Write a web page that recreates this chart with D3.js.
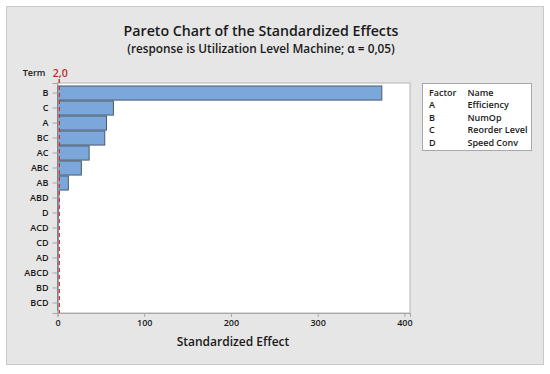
<!DOCTYPE html>
<html>
<head>
<meta charset="utf-8">
<script src="https://cdn.jsdelivr.net/npm/d3@7"></script>
<style>
  body { margin: 0; background: #fff; }
  svg text { font-family: "Open Sans", "Noto Sans", sans-serif; fill: #1a1a1a; }
</style>
</head>
<body>
<div id="chart"></div>
<script>
// Terms in Pareto order (largest effect first)
const terms = ['B', 'C', 'A', 'BC', 'AC', 'ABC', 'AB', 'ABD', 'D', 'ACD', 'CD', 'AD', 'ABCD', 'BD', 'BCD'];
const effects = [374, 64.5, 56.5, 54.5, 36.5, 27.5, 12.5, 1.6, 1.2, 1.0, 0.9, 0.8, 0.8, 0.6, 0.5];
const xTicks = [0, 100, 200, 300, 400];
const critical = 2.0;
const factorCodes = ['A', 'B', 'C', 'D'];
const factorNames = ['Efficiency', 'NumOp', 'Reorder Level', 'Speed Conv'];

const W = 550, H = 374;
const plot = { left: 57.5, right: 410, top: 83, bottom: 313 };

const svg = d3.select('#chart').append('svg')
    .attr('width', W)
    .attr('height', H);

// outer gray panel
svg.append('rect')
    .attr('x', 6.5).attr('y', 6.5)
    .attr('width', 537).attr('height', 358)
    .attr('fill', '#e6e6e6')
    .attr('stroke', '#c9c9c9');

// Titles
svg.append('text')
    .attr('x', 261).attr('y', 35.5)
    .attr('text-anchor', 'middle')
    .attr('font-size', 14.2)
    .attr('font-weight', 600)
    .text('Pareto Chart of the Standardized Effects');

svg.append('text')
    .attr('x', 261).attr('y', 53)
    .attr('text-anchor', 'middle')
    .attr('font-size', 11.8)
    .attr('font-weight', 600)
    .text('(response is Utilization Level Machine; α = 0,05)');

// Scales
const x = d3.scaleLinear()
    .domain([0, 406.5])
    .range([plot.left, plot.right]);

const y = d3.scaleBand()
    .domain(terms)
    .range([plot.top, plot.bottom])
    .paddingInner(0.06)
    .paddingOuter(0.2);

// plot background
svg.append('rect')
    .attr('x', plot.left).attr('y', plot.top)
    .attr('width', plot.right - plot.left)
    .attr('height', plot.bottom - plot.top)
    .attr('fill', '#fff')
    .attr('stroke', '#b4b4b4')
    .attr('stroke-width', 1);

// Bars
svg.selectAll('.bar')
    .data(terms)
    .enter()
    .append('rect')
    .attr('class', 'bar')
    .attr('x', x(0))
    .attr('y', d => y(d))
    .attr('width', (d, i) => x(effects[i]) - x(0))
    .attr('height', y.bandwidth())
    .attr('fill', '#7ba7da')
    .attr('stroke', '#4a5a6c')
    .attr('stroke-width', 1);

// Critical value reference line
svg.append('line')
    .attr('x1', x(critical)).attr('x2', x(critical))
    .attr('y1', plot.top - 4).attr('y2', plot.bottom)
    .attr('stroke', '#d9262c')
    .attr('stroke-width', 1.4)
    .attr('stroke-dasharray', '4,3');

svg.append('text')
    .attr('x', x(critical) + 1).attr('y', 77)
    .attr('text-anchor', 'middle')
    .attr('font-size', 10.5)
    .attr('font-weight', 600)
    .style('fill', '#c0282e')
    .text('2,0');

// Axes
const xAxis = svg.append('g')
    .attr('transform', `translate(0,${plot.bottom})`)
    .call(d3.axisBottom(x).tickValues(xTicks).tickSize(4).tickPadding(3));

const yAxis = svg.append('g')
    .attr('transform', `translate(${plot.left},0)`)
    .call(d3.axisLeft(y).tickSize(5).tickPadding(4));

[xAxis, yAxis].forEach(g => {
    g.select('.domain').attr('stroke', '#a8a8a8');
    g.selectAll('.tick line').attr('stroke', '#a8a8a8');
    g.selectAll('.tick text')
        .attr('font-size', 9)
        .attr('font-weight', 600)
        .style('fill', '#1a1a1a')
        .attr('font-family', '"Open Sans", sans-serif');
});

// Axis titles
svg.append('text')
    .attr('x', 34).attr('y', 76)
    .attr('text-anchor', 'middle')
    .attr('font-size', 9)
    .attr('font-weight', 600)
    .text('Term');

svg.append('text')
    .attr('x', 233).attr('y', 346)
    .attr('text-anchor', 'middle')
    .attr('font-size', 12)
    .attr('font-weight', 600)
    .text('Standardized Effect');

// Legend
const legend = svg.append('g');
legend.append('rect')
    .attr('x', 422.5).attr('y', 83.5)
    .attr('width', 109).attr('height', 67)
    .attr('fill', '#fff')
    .attr('stroke', '#a8a8a8');

const rows = [['Factor', 'Name']].concat(factorCodes.map((c, i) => [c, factorNames[i]]));
rows.forEach((r, i) => {
    legend.append('text')
        .attr('x', 429).attr('y', 95.5 + i * 12.5)
        .attr('font-size', 9)
        .attr('font-weight', 600)
        .text(r[0]);
    legend.append('text')
        .attr('x', 467.5).attr('y', 95.5 + i * 12.5)
        .attr('font-size', 9)
        .attr('font-weight', 600)
        .text(r[1]);
});
</script>
</body>
</html>
